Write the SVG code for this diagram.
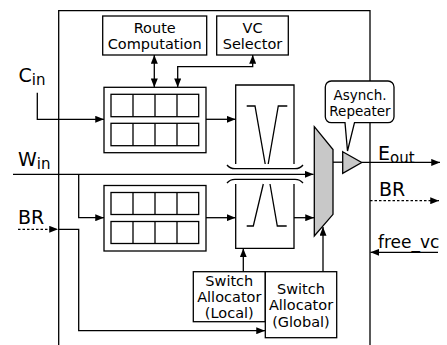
<svg xmlns="http://www.w3.org/2000/svg" width="447" height="345" viewBox="0 0 447 345">
<style>
.s{fill:none;stroke:#000;stroke-width:1.3}
.w{fill:#fff;stroke:#000;stroke-width:1.3}
.g{fill:#c8c8c8;stroke:#000;stroke-width:1.3}
.t{font-family:"DejaVu Sans","Liberation Sans",sans-serif;font-size:14.5px;fill:#000;text-anchor:middle}
.L{font-family:"DejaVu Sans","Liberation Sans",sans-serif;font-size:19px;fill:#000}
.sub{font-size:15px}
.c{fill:none;stroke:#000;stroke-width:1.3}
.d{stroke-dasharray:2.5 2}
</style>
<defs>
<marker id="a" viewBox="0 0 10 8" refX="10" refY="4" markerWidth="9" markerHeight="7" markerUnits="userSpaceOnUse" orient="auto-start-reverse"><path d="M0,0L10,4L0,8z" fill="#000"/></marker>
</defs>
<rect width="447" height="345" fill="#fff"/>
<g id="frame"><path class="s" d="M58.7,345V10.7H370V345"/></g>
<g id="connectors">
<path class="c" d="M154.3,55V87.3" marker-start="url(#a)" marker-end="url(#a)"/>
<path class="c" d="M177.7,87.3V66.7H252.7V55" marker-start="url(#a)" marker-end="url(#a)"/>
<path class="c" d="M37.3,92.7V119.3H104" marker-end="url(#a)"/>
<path class="c" d="M13,174.3H313.5" marker-end="url(#a)"/>
<path class="c" d="M78.7,174.3V217.7H104" marker-end="url(#a)"/>
<path class="c d" d="M18,229.3H58" marker-end="url(#a)"/>
<path class="c" d="M58.7,229.3H78.7V330.7H265" marker-end="url(#a)"/>
<path class="c" d="M206,119.3H235.5" marker-end="url(#a)"/>
<path class="c" d="M206,217.7H235.5" marker-end="url(#a)"/>
<path class="c" d="M294,217.7H314" marker-end="url(#a)"/>
<path class="c" d="M243.3,271.7V248.5" marker-end="url(#a)"/>
<path class="c" d="M323,271.7V227" marker-end="url(#a)"/>
<path class="c d" d="M370,200.7H439" marker-end="url(#a)"/>
<path class="c" d="M438,252.3H370.5" marker-end="url(#a)"/>
<path class="c" d="M333,162.2H342.7"/>
<path class="c" d="M361.7,162.4H440" marker-end="url(#a)"/>
</g>
<g id="route-computation"><rect class="w" x="102.7" y="16" width="104" height="39"/><text class="t" x="154.7" y="33.3">Route</text><text class="t" x="154.7" y="49.3">Computation</text></g>
<g id="vc-selector"><rect class="w" x="216.7" y="16" width="71.6" height="39"/><text class="t" x="252.5" y="33.3">VC</text><text class="t" x="252.5" y="49.3">Selector</text></g>
<g id="buffer-1"><rect class="w" x="104" y="87.3" width="102" height="65.4"/><rect class="s" x="111" y="94.3" width="87.7" height="22.4"/><rect class="s" x="111" y="123.3" width="87.7" height="22.4"/><path class="s" d="M133,94.3V116.7M155,94.3V116.7M177,94.3V116.7M133,123.3V145.7M155,123.3V145.7M177,123.3V145.7"/></g>
<g id="buffer-2"><rect class="w" x="104" y="185.5" width="102" height="65.5"/><rect class="s" x="111" y="192.5" width="87.7" height="22"/><rect class="s" x="111" y="221.5" width="87.7" height="22"/><path class="s" d="M133,192.5V214.5M155,192.5V214.5M177,192.5V214.5M133,221.5V243.5M155,221.5V243.5M177,221.5V243.5"/></g>
<g id="crossbar-1"><path class="s" d="M235.7,164V85H294V164"/><path class="s" d="M227,165Q230,168.7 235,168.7H295Q300,168.7 303,165"/><path class="s" d="M246.7,106H255L265.2,164M287.3,106H278.3L268.2,164"/></g>
<g id="crossbar-2"><path class="s" d="M235.7,184V248.3H294V184"/><path class="s" d="M227,183Q230,179.3 235,179.3H295Q300,179.3 303,183"/><path class="s" d="M263.3,184L253.3,226H246.7M270,184L277.3,226H286.7"/></g>
<g id="mux"><polygon class="g" points="314.3,126.7 333,149.5 333,214.3 314.3,236"/></g>
<g id="repeater"><polygon class="g" points="342.7,151.7 361.7,162.5 342.7,173.3"/></g>
<g id="callout"><path class="w" d="M331.3,81H388A6,6 0 0 1 394,87V116.7A6,6 0 0 1 388,122.7H354.5L347.5,151L345,122.7H331.3A6,6 0 0 1 325.3,116.7V87A6,6 0 0 1 331.3,81Z"/><text class="t" x="360" y="100" style="font-size:13.5px">Asynch.</text><text class="t" x="360" y="116" style="font-size:13.5px">Repeater</text></g>
<g id="sa-local"><rect class="w" x="193.3" y="271.7" width="72" height="50"/><text class="t" x="229.3" y="285.5">Switch</text><text class="t" x="229.3" y="302">Allocator</text><text class="t" x="229.3" y="318">(Local)</text></g>
<g id="sa-global"><rect class="w" x="265.3" y="271.7" width="71.4" height="66"/><text class="t" x="301" y="293.5">Switch</text><text class="t" x="301" y="310">Allocator</text><text class="t" x="301" y="326.5">(Global)</text></g>
<g id="labels">
<text class="L" x="18.5" y="82">C<tspan class="sub" dy="3">in</tspan></text>
<text class="L" x="18" y="166">W<tspan class="sub" dy="3">in</tspan></text>
<text class="L" x="18" y="224">BR</text>
<text class="L" x="378" y="160">E<tspan class="sub" dy="3">out</tspan></text>
<text class="L" x="379" y="196">BR</text>
<text class="L" x="378" y="248" style="font-size:17px">free_vc</text>
</g>
</svg>
